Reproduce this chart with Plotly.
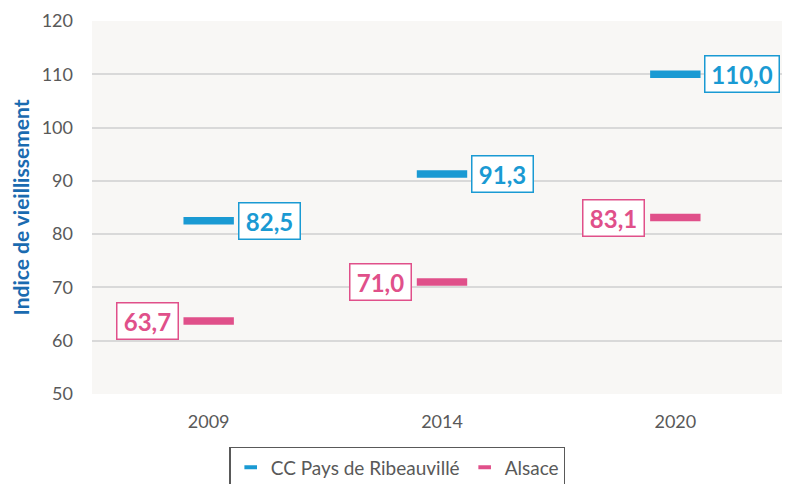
import plotly.graph_objects as go

years = ["2009", "2014", "2020"]
ribeauville = [82.5, 91.3, 110.0]
alsace = [63.7, 71.0, 83.1]
series_names = ["CC Pays de Ribeauvillé", "Alsace"]
y_ticks = [50, 60, 70, 80, 90, 100, 110, 120]

BLUE = "#1a9ad3"
PINK = "#e0508a"
FONT = "Lato"

fig = go.Figure()
for name, vals, col in [(series_names[0], ribeauville, BLUE), (series_names[1], alsace, PINK)]:
    fig.add_trace(go.Scatter(
        x=years, y=vals, name=name, mode="markers", showlegend=False,
        marker=dict(symbol="line-ew", size=36, color=col,
                    line=dict(color=col, width=7.5)),
        hoverinfo="x+y",
    ))
    # legend entry
    fig.add_trace(go.Scatter(
        x=[None], y=[None], name=name, mode="markers",
        marker=dict(symbol="line-ew", size=9, color=col,
                    line=dict(color=col, width=4)),
    ))

def fmt(v):
    return f"{v:.1f}".replace(".", ",")

def box_w(s):
    return 54 if len(s) <= 4 else 67

for i, v in enumerate(ribeauville):
    s = fmt(v)
    fig.add_annotation(x=i, y=v, xref="x", yref="y", text=f"<b>{s}</b>", showarrow=False,
                       xanchor="left", xshift=29, bgcolor="white", width=box_w(s),
                       bordercolor=BLUE, borderwidth=1.5, borderpad=3,
                       font=dict(family=FONT, size=24, color=BLUE))
for i, v in enumerate(alsace):
    s = fmt(v)
    fig.add_annotation(x=i, y=v, xref="x", yref="y", text=f"<b>{s}</b>", showarrow=False,
                       xanchor="right", xshift=-30, bgcolor="white", width=box_w(s),
                       bordercolor=PINK, borderwidth=1.5, borderpad=3,
                       font=dict(family=FONT, size=24, color=PINK))

fig.update_layout(
    width=790, height=484,
    margin=dict(l=84, r=6, t=13, b=98, autoexpand=False),
    paper_bgcolor="white", plot_bgcolor="#f8f7f5",
    font=dict(family=FONT, size=18, color="#595959"),
    showlegend=True,
    legend=dict(orientation="h", x=0.436, xanchor="center", y=-0.142, yanchor="top",
                bordercolor="#595959", borderwidth=1.5, bgcolor="white",
                font=dict(family=FONT, size=19, color="#595959"),
                itemwidth=30),
    xaxis=dict(type="category", range=[-0.5, 2.5], showgrid=False, ticks="",
               ticklabelstandoff=15, zeroline=False, fixedrange=True),
    yaxis=dict(range=[50, 120], tickvals=y_ticks, gridcolor="#d9d9d9", gridwidth=1.5,
               zeroline=False, ticks="", ticklabelstandoff=18,
               title=dict(text="<b>Indice de vieillissement</b>",
                          font=dict(family=FONT, size=21, color="#1a6bb0"), standoff=9)),
)

fig.write_html("out.html")
